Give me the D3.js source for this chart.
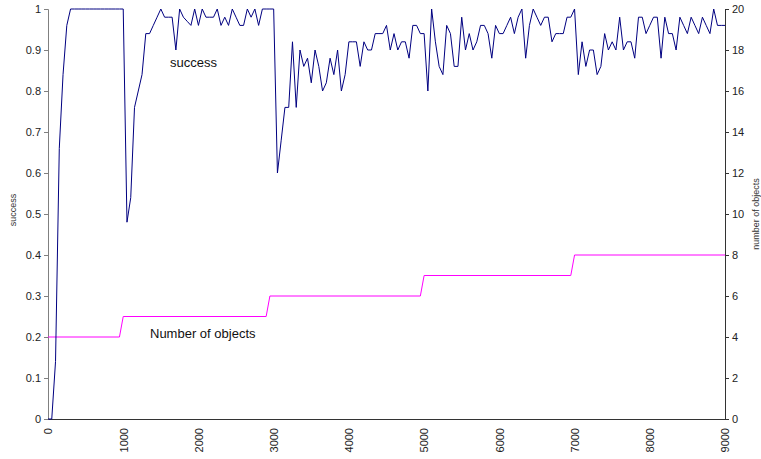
<!DOCTYPE html>
<html>
<head>
<meta charset="utf-8">
<script src="https://cdn.jsdelivr.net/npm/d3@7"></script>
<style>
  body { margin: 0; background: #fff; }
  svg { font-family: "Liberation Sans", Arial, sans-serif; }
</style>
</head>
<body>
<div id="chart"></div>
<script>
// success rate, one sample every 50 steps (0 .. 9000)
const sampleStep = 50;
const success = [
  0, 0, 0.14, 0.66, 0.84, 0.96, 1, 1, 1, 1, 1, 1, 1, 1, 1, 1, 1, 1, 1, 1, 1,
  0.48, 0.54, 0.76, 0.80, 0.84, 0.94, 0.94, 0.96, 0.98, 1.0, 0.98, 0.98, 0.98, 0.90, 1.0,
  0.98, 0.97, 0.96, 1.0, 0.96, 1.0, 0.98, 0.98, 0.98, 1.0, 0.96, 0.98, 0.96, 1.0, 0.98,
  0.96, 0.96, 1.0, 0.98, 1.0, 0.96, 1.0, 1.0, 1.0, 1.0,
  0.60, 0.68, 0.76, 0.76, 0.92, 0.76, 0.90, 0.86, 0.88, 0.82, 0.90, 0.86,
  0.80, 0.82, 0.88, 0.84, 0.90, 0.80, 0.84, 0.92, 0.92, 0.92, 0.86, 0.92, 0.90, 0.90, 0.94, 0.94, 0.94, 0.96,
  0.90, 0.94, 0.90, 0.92, 0.92, 0.88, 0.96, 0.96, 0.94, 0.94,
  0.80, 1.0, 0.92, 0.86, 0.84, 0.96, 0.94, 0.86, 0.86, 0.98,
  0.90, 0.94, 0.90, 0.92, 0.96, 0.96, 0.94, 0.88, 0.96, 0.94,
  0.94, 0.96, 0.98, 0.94, 0.98, 1.0, 0.88, 0.96, 1.0, 0.98,
  0.96, 0.98, 0.98, 0.92, 0.94, 0.94, 0.94, 0.98, 0.98, 1.0,
  0.84, 0.92, 0.86, 0.90, 0.90, 0.84, 0.86, 0.94, 0.90, 0.92,
  0.90, 0.98, 0.90, 0.92, 0.92, 0.88, 0.98, 0.98, 0.94, 0.96,
  0.98, 0.98, 0.88, 0.98, 0.94, 0.94, 0.90, 0.98, 0.96, 0.94,
  0.98, 0.96, 0.94, 0.98, 0.96, 0.94, 1.0, 0.96, 0.96, 0.96
];

// number of objects (right axis), corner points of the step line
const objectsX = [0, 950, 1000, 2900, 2950, 4950, 5000, 6950, 7000, 9000];
const objectsN = [4, 4, 5, 5, 6, 6, 7, 7, 8, 8];

const xTicks = [0, 1000, 2000, 3000, 4000, 5000, 6000, 7000, 8000, 9000];
const leftTicks = [0, 0.1, 0.2, 0.3, 0.4, 0.5, 0.6, 0.7, 0.8, 0.9, 1];
const rightTicks = [0, 2, 4, 6, 8, 10, 12, 14, 16, 18, 20];

const width = 761, height = 459;
const margin = {top: 9, right: 36, bottom: 40, left: 48};

const svg = d3.select("#chart").append("svg")
    .attr("width", width)
    .attr("height", height);

const x = d3.scaleLinear().domain([0, 9000]).range([margin.left, width - margin.right]);
const yL = d3.scaleLinear().domain([0, 1]).range([height - margin.bottom, margin.top]);
const yR = d3.scaleLinear().domain([0, 20]).range([height - margin.bottom, margin.top]);

// Axes
const leftAxis = svg.append("g")
    .attr("transform", `translate(${margin.left},0)`)
    .call(d3.axisLeft(yL).tickValues(leftTicks).tickSize(4).tickPadding(3)
        .tickFormat(d => String(+d.toFixed(1))));
leftAxis.selectAll("path, line").attr("stroke", "#808080");

const rightAxis = svg.append("g")
    .attr("transform", `translate(${width - margin.right},0)`)
    .call(d3.axisRight(yR).tickValues(rightTicks).tickSize(4).tickPadding(3));
rightAxis.selectAll("path, line").attr("stroke", "#333");

const bottomAxis = svg.append("g")
    .attr("transform", `translate(0,${height - margin.bottom})`)
    .call(d3.axisBottom(x).tickValues(xTicks).tickSize(0).tickSizeOuter(0).tickFormat(d3.format("d")));
bottomAxis.select(".domain").attr("stroke", "#333");
bottomAxis.selectAll("text")
    .attr("transform", "rotate(-90)")
    .attr("text-anchor", "end")
    .attr("x", -9)
    .attr("y", 0)
    .attr("dy", "0.35em");

svg.selectAll(".tick text")
    .attr("fill", "#222")
    .style("font-size", "11px")
    .style("font-family", "inherit");

// Number of objects
const objPts = objectsX.map((v, i) => [v, objectsN[i]]);
svg.append("path")
    .attr("d", d3.line().x(d => x(d[0])).y(d => yR(d[1]))(objPts))
    .attr("fill", "none")
    .attr("stroke", "#ff00ff")
    .attr("stroke-width", 1);

// Success
svg.append("path")
    .datum(success)
    .attr("d", d3.line().x((d, i) => x(i * sampleStep)).y(d => yL(d)))
    .attr("fill", "none")
    .attr("stroke", "#000080")
    .attr("stroke-width", 1);

// Axis titles (both read bottom to top)
svg.append("text")
    .attr("transform", "translate(16,210) rotate(-90)")
    .attr("text-anchor", "middle")
    .attr("fill", "#333")
    .style("font-size", "9px")
    .text("success");

svg.append("text")
    .attr("transform", "translate(759,214) rotate(-90)")
    .attr("text-anchor", "middle")
    .attr("fill", "#333")
    .style("font-size", "9px")
    .text("number of objects");

// Labels in the plot
svg.append("text")
    .attr("x", 170).attr("y", 67)
    .attr("fill", "#111")
    .style("font-size", "13px")
    .text("success");

svg.append("text")
    .attr("x", 150).attr("y", 338)
    .attr("fill", "#111")
    .style("font-size", "13px")
    .text("Number of objects");
</script>
</body>
</html>
